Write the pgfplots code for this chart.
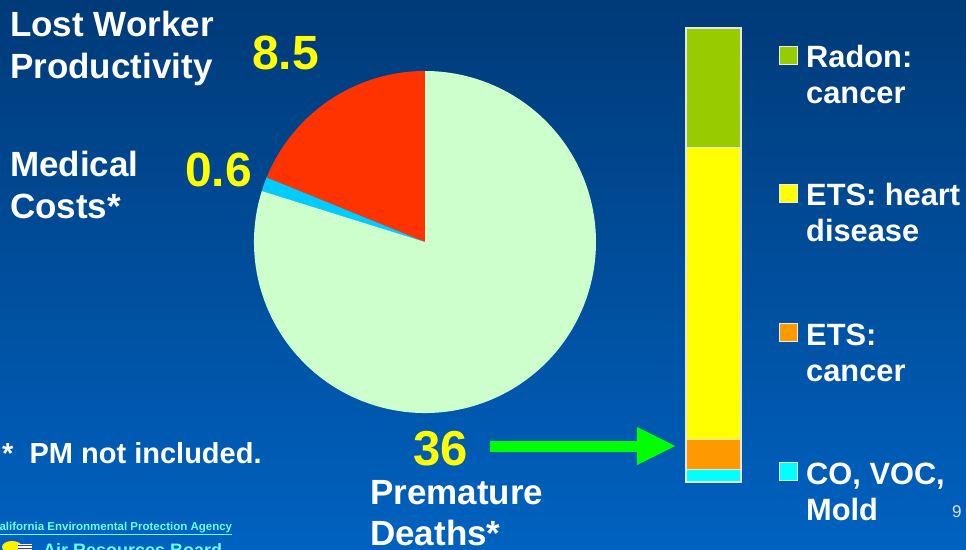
\documentclass[border=0pt]{standalone}
\usepackage{fontspec}
\setmainfont{Liberation Sans}
\usepackage{pgfplots}
\pgfplotsset{compat=1.18}
\usepackage{pgfplotstable}

\definecolor{bgtop}{RGB}{0,58,120}
\definecolor{bgbot}{RGB}{0,98,192}
\definecolor{pgreen}{RGB}{204,255,204}
\definecolor{pcyan}{RGB}{0,204,255}
\definecolor{pred}{RGB}{255,51,0}
\definecolor{bradon}{RGB}{153,204,0}
\definecolor{byellow}{RGB}{255,255,0}
\definecolor{borange}{RGB}{255,153,0}
\definecolor{bcyan}{RGB}{0,255,255}
\definecolor{lyell}{RGB}{255,255,0}
\definecolor{agency}{RGB}{102,255,255}
\definecolor{arrowg}{RGB}{0,255,0}

% pie data: premature deaths, medical costs, lost worker productivity
\pgfplotstableread{
label value
deaths 36
medical 0.6
productivity 8.5
}\pietable
% stacked bar data (premature deaths breakdown)
\pgfplotstableread{
x covoc etscancer etsheart radon
0 1.0 2.4 23.1 9.5
}\bartable

\begin{document}
\begin{tikzpicture}[x=1pt,y=1pt]
\useasboundingbox (0,0) rectangle (966,549);
\shade[top color=bgtop, bottom color=bgbot] (0,0) rectangle (966,549);
\begin{scope}
\clip (0,0) rectangle (966,549);

% ---------- pie ----------
\pgfplotstablegetelem{0}{value}\of\pietable \let\vD\pgfplotsretval
\pgfplotstablegetelem{1}{value}\of\pietable \let\vM\pgfplotsretval
\pgfplotstablegetelem{2}{value}\of\pietable \let\vP\pgfplotsretval
\pgfmathsetmacro{\tot}{\vD+\vM+\vP}
\pgfmathsetmacro{\aA}{90+360*\vP/\tot}
\pgfmathsetmacro{\aB}{\aA+360*\vM/\tot}
\begin{axis}[x=1pt,y=1pt,xmin=-172,xmax=172,ymin=-172,ymax=172,
  hide axis, clip=false, at={(425pt,307pt)}, anchor=center]
\fill[pred] (axis cs:0,0) -- (axis cs:0,171) arc[start angle=90,end angle=\aA,radius=171pt] -- cycle;
\fill[pcyan] (axis cs:0,0) -- ({171*cos(\aA)},{171*sin(\aA)}) arc[start angle=\aA,end angle=\aB,radius=171pt] -- cycle;
\fill[pgreen] (axis cs:0,0) -- ({171*cos(\aB)},{171*sin(\aB)}) arc[start angle=\aB,end angle=450,radius=171pt] -- cycle;
\end{axis}

% ---------- stacked bar ----------
\begin{axis}[scale only axis, width=55pt, height=454pt,
  xmin=-0.5, xmax=0.5, ymin=0, ymax=36, hide axis, clip=false,
  at={(713.5pt,294pt)}, anchor=center,
  ybar stacked, bar width=55pt,
  every axis plot/.append style={draw=white!80!gray, line width=1.2pt}]
\addplot[fill=bcyan] table[x=x,y=covoc]{\bartable};
\addplot[fill=borange] table[x=x,y=etscancer]{\bartable};
\addplot[fill=byellow] table[x=x,y=etsheart]{\bartable};
\addplot[fill=bradon] table[x=x,y=radon]{\bartable};
\end{axis}

% ---------- legend ----------
\foreach \c/\yc in {bradon/493, byellow/355, borange/216, bcyan/78}{
  \filldraw[fill=\c, draw=white!85!gray, line width=1pt] (779,\yc-9) rectangle (797,\yc+9);
}
\node[white,anchor=base west,inner sep=0pt,font=\fontsize{30.8}{36}\bfseries] at (806,481) {Radon:};
\node[white,anchor=base west,inner sep=0pt,font=\fontsize{30.8}{36}\bfseries] at (806,445) {cancer};
\node[white,anchor=base west,inner sep=0pt,font=\fontsize{30.8}{36}\bfseries] at (806,343) {ETS: heart};
\node[white,anchor=base west,inner sep=0pt,font=\fontsize{30.8}{36}\bfseries] at (806,307) {disease};
\node[white,anchor=base west,inner sep=0pt,font=\fontsize{30.8}{36}\bfseries] at (806,203) {ETS:};
\node[white,anchor=base west,inner sep=0pt,font=\fontsize{30.8}{36}\bfseries] at (806,167) {cancer};
\node[white,anchor=base west,inner sep=0pt,font=\fontsize{30.8}{36}\bfseries] at (806,65) {CO, VOC,};
\node[white,anchor=base west,inner sep=0pt,font=\fontsize{30.8}{36}\bfseries] at (806,29) {Mold};

% ---------- labels ----------
\node[white,anchor=base west,inner sep=0pt,font=\fontsize{35}{40}\bfseries] at (10,512) {Lost Worker};
\node[white,anchor=base west,inner sep=0pt,font=\fontsize{35}{40}\bfseries] at (10,470) {Productivity};
\node[white,anchor=base west,inner sep=0pt,font=\fontsize{35}{40}\bfseries] at (10,372) {Medical};
\node[white,anchor=base west,inner sep=0pt,font=\fontsize{35}{40}\bfseries] at (10,330) {Costs*};
\node[white,anchor=base west,inner sep=0pt,font=\fontsize{35}{40}\bfseries] at (370,45) {Premature};
\node[white,anchor=base west,inner sep=0pt,font=\fontsize{35}{40}\bfseries] at (370,4) {Deaths*};
\node[white,anchor=base west,inner sep=0pt,font=\fontsize{29}{34}\bfseries] at (2,86) {*\ \ PM not included.};

\node[lyell,anchor=base west,inner sep=0pt,font=\fontsize{48}{56}\bfseries] at (252,479) {8.5};
\node[lyell,anchor=base west,inner sep=0pt,font=\fontsize{48}{56}\bfseries] at (185,362) {0.6};
\node[lyell,anchor=base west,inner sep=0pt,font=\fontsize{49}{56}\bfseries] at (413,84) {36};

\node[white!88!blue,anchor=base west,inner sep=0pt,font=\fontsize{17}{20}\mdseries] at (952,32) {9};

% ---------- arrow ----------
\fill[arrowg] (490,97) rectangle (638,108);
\fill[arrowg] (637,122) -- (637,84) -- (675,103) -- cycle;

% ---------- footer ----------
\node[agency,anchor=base west,inner sep=0pt,font=\fontsize{11.5}{13}\bfseries] at (-9,19) {\underline{California Environmental Protection Agency}};
\node[agency,anchor=base west,inner sep=0pt,font=\fontsize{18}{20}\bfseries] at (43,-7) {Air Resources Board};
\fill[yellow] (12,2) ellipse (10 and 6);
\fill[white] (18,-1) rectangle (32,5);
\draw[blue!60!gray, line width=0.8pt] (18,1) -- (32,1) (18,4) -- (32,4);
\end{scope}
\end{tikzpicture}
\end{document}
